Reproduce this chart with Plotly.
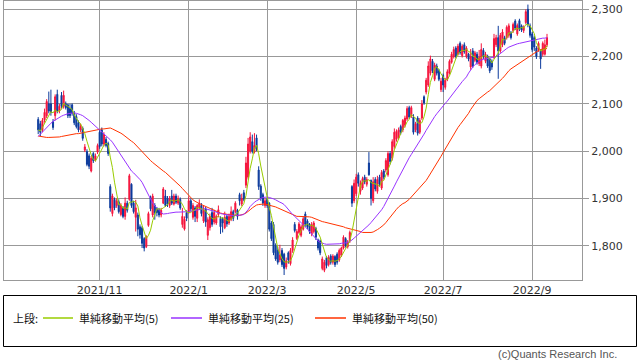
import pandas as pd
import plotly.graph_objects as go

# ---------------- data ----------------
first_day = "2021-09-17"
last_day = "2022-09-12"
market_holidays = ["2021-09-20", "2021-09-23", "2021-11-03", "2021-11-23", "2021-12-31",
                   "2022-01-03", "2022-01-10", "2022-02-11", "2022-02-23", "2022-03-21",
                   "2022-04-29", "2022-05-03", "2022-05-04", "2022-05-05", "2022-07-18",
                   "2022-08-11"]

tick_months = ["2021-11", "2022-01", "2022-03", "2022-05", "2022-07", "2022-09"]
tick_labels = ["2021/11", "2022/1", "2022/3", "2022/5", "2022/7", "2022/9"]
price_ticks = [1800, 1900, 2000, 2100, 2200, 2300]

open_ = [2067, 2058, 2045, 2066, 2075, 2100, 2100, 2062, 2075, 2120,
         2085, 2118, 2095, 2100, 2098, 2090, 2098, 2080, 2073, 2060,
         2045, 2048, 2002, 1999, 1990, 1958, 1995, 1982, 1998, 2040,
         2045, 2015, 2025, 2016, 1925, 1868, 1898, 1885, 1893, 1866,
         1880, 1862, 1890, 1898, 1930, 1890, 1860, 1865, 1840, 1838,
         1815, 1798, 1843, 1902, 1865, 1885, 1878, 1876, 1865, 1890,
         1905, 1900, 1885, 1905, 1888, 1905, 1890, 1898, 1845, 1835,
         1870, 1872, 1895, 1860, 1880, 1858, 1880, 1885, 1852, 1878,
         1822, 1838, 1870, 1850, 1848, 1866, 1858, 1856, 1838, 1862,
         1848, 1856, 1872, 1872, 1875, 1908, 1888, 1912, 1928, 1945,
         2000, 2020, 1998, 2028, 1960, 1926, 1908, 1885, 1898, 1890,
         1848, 1845, 1800, 1790, 1770, 1790, 1782, 1755, 1785, 1762,
         1790, 1845, 1815, 1828, 1822, 1835, 1867, 1852, 1845, 1825,
         1830, 1836, 1812, 1810, 1752, 1748, 1775, 1760, 1778, 1765,
         1777, 1782, 1770, 1780, 1795, 1815, 1798, 1810, 1925, 1895,
         1910, 1950, 1915, 1922, 1945, 1930, 1975, 1938, 1895, 1940,
         1915, 1945, 1922, 1958, 1960, 1950, 1995, 1985, 2010, 2025,
         2028, 2052, 2045, 2055, 2068, 2092, 2075, 2072, 2045, 2070,
         2040, 2070, 2115, 2125, 2140, 2165, 2190, 2152, 2180, 2170,
         2130, 2160, 2135, 2152, 2165, 2188, 2200, 2218, 2205, 2228,
         2202, 2225, 2200, 2205, 2178, 2212, 2192, 2205, 2185, 2180,
         2213, 2190, 2200, 2195, 2190, 2198, 2225, 2240, 2212, 2225,
         2240, 2240, 2245, 2250, 2255, 2275, 2248, 2276, 2265, 2255,
         2272, 2300, 2265, 2248, 2240, 2218, 2215, 2212, 2205, 2205, 2225]

close = [2045, 2040, 2065, 2082, 2105, 2085, 2082, 2050, 2115, 2085,
         2095, 2095, 2118, 2092, 2075, 2075, 2080, 2060, 2052, 2045,
         2052, 2027, 2009, 1972, 1968, 1985, 1980, 1990, 2012, 2010,
         2015, 2035, 2012, 1995, 1880, 1905, 1880, 1895, 1872, 1885,
         1862, 1890, 1875, 1948, 1885, 1872, 1880, 1835, 1823, 1805,
         1795, 1818, 1868, 1878, 1905, 1870, 1870, 1865, 1875, 1920,
         1885, 1888, 1900, 1890, 1905, 1892, 1900, 1880, 1862, 1856,
         1858, 1895, 1878, 1885, 1862, 1885, 1890, 1868, 1875, 1850,
         1855, 1862, 1845, 1870, 1862, 1876, 1840, 1848, 1860, 1846,
         1862, 1872, 1858, 1890, 1862, 1895, 1900, 1898, 1975, 2015,
         2030, 2000, 2012, 2005, 1925, 1900, 1890, 1895, 1885, 1835,
         1815, 1785, 1772, 1765, 1780, 1760, 1752, 1768, 1770, 1790,
         1812, 1832, 1830, 1846, 1840, 1857, 1845, 1840, 1830, 1845,
         1848, 1818, 1795, 1785, 1772, 1765, 1758, 1775, 1765, 1778,
         1760, 1765, 1790, 1795, 1818, 1800, 1808, 1828, 1890, 1932,
         1945, 1932, 1932, 1942, 1935, 1940, 1950, 1900, 1935, 1920,
         1940, 1930, 1955, 1945, 1980, 1995, 1978, 2020, 2040, 2042,
         2045, 2040, 2065, 2070, 2090, 2072, 2092, 2040, 2058, 2038,
         2065, 2100, 2102, 2150, 2180, 2195, 2170, 2182, 2165, 2152,
         2148, 2140, 2150, 2168, 2190, 2205, 2215, 2200, 2222, 2208,
         2222, 2210, 2218, 2195, 2200, 2180, 2208, 2188, 2198, 2215,
         2200, 2205, 2180, 2170, 2178, 2238, 2240, 2212, 2245, 2252,
         2228, 2262, 2265, 2240, 2268, 2260, 2266, 2258, 2256, 2262,
         2295, 2268, 2245, 2215, 2220, 2200, 2228, 2195, 2228, 2225, 2240]

high = [2072, 2064, 2070, 2090, 2110, 2126, 2130, 2068, 2120, 2130,
        2100, 2125, 2128, 2105, 2100, 2100, 2101, 2085, 2078, 2065,
        2058, 2052, 2015, 2004, 1995, 1990, 1998, 1995, 2016, 2046,
        2050, 2040, 2030, 2020, 1930, 1910, 1902, 1900, 1898, 1890,
        1884, 1902, 1895, 1952, 1932, 1895, 1897, 1870, 1845, 1842,
        1818, 1822, 1872, 1906, 1910, 1890, 1882, 1880, 1880, 1924,
        1918, 1905, 1905, 1918, 1910, 1910, 1906, 1902, 1880, 1862,
        1875, 1904, 1900, 1890, 1884, 1888, 1898, 1890, 1885, 1882,
        1860, 1868, 1880, 1876, 1866, 1885, 1862, 1860, 1872, 1866,
        1868, 1883, 1876, 1894, 1878, 1912, 1910, 1918, 1988, 2028,
        2040, 2035, 2038, 2035, 1968, 1930, 1912, 1900, 1902, 1892,
        1852, 1850, 1805, 1798, 1802, 1795, 1785, 1775, 1788, 1795,
        1818, 1850, 1835, 1850, 1845, 1862, 1872, 1856, 1848, 1850,
        1852, 1840, 1815, 1813, 1777, 1770, 1778, 1780, 1782, 1782,
        1780, 1786, 1794, 1798, 1822, 1818, 1812, 1832, 1928, 1940,
        1952, 1955, 1938, 1946, 1950, 1945, 1998, 1940, 1945, 1945,
        1948, 1950, 1960, 1962, 1985, 2000, 2000, 2025, 2048, 2046,
        2050, 2056, 2068, 2075, 2095, 2096, 2096, 2078, 2062, 2074,
        2070, 2108, 2118, 2155, 2190, 2202, 2195, 2187, 2185, 2174,
        2155, 2164, 2155, 2173, 2194, 2210, 2221, 2222, 2227, 2232,
        2226, 2230, 2222, 2208, 2216, 2218, 2212, 2210, 2214, 2228,
        2218, 2210, 2204, 2198, 2194, 2248, 2246, 2265, 2250, 2258,
        2244, 2266, 2270, 2254, 2272, 2279, 2270, 2280, 2268, 2266,
        2300, 2310, 2270, 2252, 2244, 2222, 2232, 2215, 2232, 2236, 2248]

low = [2036, 2032, 2040, 2060, 2070, 2080, 2075, 2045, 2065, 2080,
       2080, 2090, 2090, 2088, 2070, 2070, 2075, 2055, 2048, 2040,
       2040, 2022, 1998, 1968, 1962, 1955, 1975, 1978, 1994, 2005,
       2010, 2010, 2008, 1990, 1872, 1862, 1875, 1880, 1868, 1862,
       1858, 1855, 1870, 1895, 1880, 1868, 1830, 1820, 1815, 1795,
       1788, 1795, 1840, 1873, 1860, 1855, 1862, 1860, 1860, 1888,
       1882, 1882, 1880, 1886, 1885, 1888, 1886, 1876, 1838, 1832,
       1852, 1868, 1872, 1855, 1850, 1850, 1876, 1862, 1848, 1840,
       1812, 1832, 1840, 1845, 1844, 1860, 1825, 1828, 1835, 1840,
       1844, 1852, 1852, 1868, 1855, 1885, 1884, 1894, 1922, 1940,
       1995, 1995, 1995, 2000, 1918, 1895, 1884, 1880, 1880, 1830,
       1810, 1780, 1768, 1760, 1765, 1755, 1738, 1750, 1762, 1758,
       1785, 1828, 1812, 1825, 1818, 1832, 1840, 1835, 1825, 1820,
       1826, 1812, 1790, 1780, 1748, 1744, 1752, 1756, 1760, 1760,
       1755, 1760, 1766, 1776, 1792, 1796, 1794, 1806, 1882, 1890,
       1905, 1925, 1908, 1918, 1930, 1925, 1948, 1885, 1890, 1915,
       1910, 1925, 1918, 1940, 1955, 1946, 1972, 1980, 2005, 2020,
       2024, 2035, 2040, 2050, 2064, 2068, 2070, 2035, 2040, 2033,
       2036, 2066, 2098, 2120, 2136, 2160, 2165, 2148, 2160, 2148,
       2125, 2125, 2130, 2148, 2162, 2185, 2196, 2196, 2202, 2204,
       2198, 2206, 2196, 2190, 2172, 2176, 2188, 2183, 2180, 2175,
       2195, 2186, 2176, 2165, 2172, 2195, 2220, 2153, 2208, 2220,
       2224, 2236, 2240, 2236, 2250, 2256, 2244, 2254, 2252, 2250,
       2268, 2262, 2240, 2210, 2212, 2195, 2210, 2174, 2200, 2202, 2220]

ma25 = [2031, 2036, 2041, 2046, 2051, 2055, 2059, 2063, 2066, 2069,
        2072, 2074, 2076, 2078, 2079, 2080, 2081, 2081, 2080, 2079,
        2077, 2075, 2072, 2069, 2065, 2061, 2057, 2053, 2049, 2045,
        2041, 2038, 2034, 2029, 2024, 2019, 2012, 2005, 1998, 1991,
        1984, 1977, 1970, 1963, 1958, 1954, 1950, 1945, 1940, 1934,
        1925, 1916, 1907, 1898, 1890, 1884, 1879, 1874, 1870, 1867,
        1867, 1868, 1869, 1870, 1871, 1871, 1871, 1871, 1871, 1871,
        1871, 1872, 1873, 1874, 1875, 1876, 1877, 1877, 1878, 1878,
        1877, 1876, 1875, 1873, 1871, 1869, 1868, 1867, 1866, 1865,
        1865, 1864, 1864, 1864, 1864, 1864, 1865, 1866, 1870, 1876,
        1883, 1888, 1892, 1895, 1898, 1900, 1902, 1903, 1903, 1902,
        1901, 1899, 1897, 1894, 1892, 1890, 1887, 1882, 1876, 1870,
        1866, 1862, 1858, 1854, 1849, 1845, 1840, 1835, 1830, 1825,
        1819, 1814, 1810, 1807, 1805, 1804, 1803, 1803, 1803, 1804,
        1804, 1804, 1804, 1805, 1805, 1806, 1807, 1809, 1812, 1816,
        1820, 1823, 1827, 1830, 1835, 1840, 1844, 1849, 1854, 1859,
        1865, 1870, 1876, 1883, 1891, 1899, 1908, 1917, 1926, 1935,
        1944, 1953, 1962, 1970, 1979, 1986, 1993, 2000, 2007, 2013,
        2020, 2028, 2036, 2044, 2052, 2059, 2066, 2073, 2079, 2085,
        2091, 2097, 2101, 2106, 2112, 2119, 2125, 2131, 2137, 2142,
        2147, 2152, 2157, 2165, 2172, 2178, 2183, 2187, 2190, 2193,
        2194, 2195, 2196, 2196, 2197, 2198, 2200, 2203, 2207, 2211,
        2214, 2217, 2220, 2222, 2224, 2226, 2227, 2228, 2229, 2230,
        2231, 2232, 2234, 2235, 2236, 2237, 2238, 2238, 2239, 2239, 2240]

ma50 = [2032, 2031, 2031, 2030, 2029, 2029, 2029, 2029, 2030, 2030,
        2030, 2031, 2032, 2033, 2034, 2034, 2035, 2036, 2037, 2037,
        2038, 2039, 2040, 2041, 2042, 2043, 2044, 2045, 2045, 2046,
        2047, 2047, 2048, 2048, 2049, 2047, 2045, 2043, 2041, 2038,
        2035, 2031, 2028, 2025, 2021, 2018, 2013, 2008, 2003, 1998,
        1993, 1988, 1984, 1980, 1976, 1972, 1968, 1965, 1962, 1958,
        1955, 1951, 1948, 1944, 1940, 1936, 1931, 1926, 1921, 1916,
        1911, 1906, 1902, 1897, 1894, 1891, 1889, 1887, 1885, 1883,
        1881, 1878, 1876, 1874, 1872, 1870, 1869, 1868, 1867, 1866,
        1866, 1865, 1865, 1864, 1864, 1864, 1865, 1867, 1869, 1872,
        1876, 1880, 1883, 1886, 1887, 1888, 1888, 1888, 1887, 1886,
        1885, 1884, 1882, 1880, 1878, 1876, 1874, 1872, 1870, 1868,
        1866, 1864, 1862, 1862, 1862, 1862, 1862, 1861, 1861, 1860,
        1858, 1856, 1854, 1852, 1851, 1850, 1849, 1848, 1847, 1846,
        1845, 1843, 1842, 1841, 1840, 1838, 1837, 1836, 1835, 1834,
        1833, 1831, 1830, 1828, 1828, 1827, 1827, 1828, 1829, 1831,
        1834, 1837, 1840, 1844, 1849, 1855, 1861, 1867, 1872, 1877,
        1882, 1886, 1889, 1891, 1894, 1898, 1903, 1908, 1913, 1918,
        1923, 1928, 1932, 1938, 1945, 1952, 1959, 1966, 1974, 1981,
        1989, 1997, 2005, 2013, 2020, 2027, 2035, 2043, 2050, 2056,
        2062, 2067, 2072, 2080, 2088, 2095, 2102, 2107, 2111, 2115,
        2118, 2121, 2125, 2128, 2132, 2137, 2141, 2145, 2149, 2154,
        2159, 2165, 2170, 2174, 2177, 2181, 2184, 2187, 2190, 2193,
        2196, 2199, 2202, 2205, 2208, 2211, 2213, 2215, 2216, 2217, 2217]

series_names = ["単純移動平均(5)", "単純移動平均(25)", "単純移動平均(50)"]

# ---------------- derived ----------------
n = len(close)
dates = pd.bdate_range(first_day, last_day, freq="C", holidays=market_holidays)[:n]
x = list(range(n))
ma5 = pd.Series(close).rolling(5, min_periods=1).mean().tolist()

month_keys = [d.strftime("%Y-%m") for d in dates]
tick_pos = [month_keys.index(m) for m in tick_months]

# ---------------- style / geometry ----------------
RED = "#f5143c"
BLUE = "#0b3a9c"
C5, C25, C50 = "#99cc00", "#9933ff", "#ff3300"
GRID = "#999999"
W, H = 638, 362
L, R, T, B = 4, 56, 1, 82
PX_PER_DAY = 2.12
X0_PX = 38.2          # pixel position of first candle
PX_PER_UNIT = 0.4728  # pixels per price unit
Y2300_PX = 9.3

plot_w = W - L - R
plot_h = H - T - B
x_range = [(L - X0_PX) / PX_PER_DAY, (W - R - X0_PX) / PX_PER_DAY]
y_range = [2300 - ((H - B) - Y2300_PX) / PX_PER_UNIT, 2300 + (Y2300_PX - T) / PX_PER_UNIT]


def px(xp):
    return (xp - L) / plot_w


def py(yp):
    return ((H - B) - yp) / plot_h


fig = go.Figure()
fig.add_trace(go.Candlestick(
    x=x, open=open_, high=high, low=low, close=close,
    increasing=dict(line=dict(color=RED, width=1), fillcolor=RED),
    decreasing=dict(line=dict(color=BLUE, width=1), fillcolor=BLUE),
    whiskerwidth=0, showlegend=False, name="株価"))
for yv, col, nm in [(ma50, C50, series_names[2]), (ma25, C25, series_names[1]), (ma5, C5, series_names[0])]:
    fig.add_trace(go.Scatter(x=x, y=yv, mode="lines", line=dict(color=col, width=1),
                             name=nm, showlegend=False))

fig.update_layout(
    width=W, height=H, margin=dict(l=L, r=R, t=T, b=B),
    paper_bgcolor="white", plot_bgcolor="white",
    font=dict(family="DejaVu Sans", size=11, color="#333333"),
    xaxis=dict(range=x_range, tickmode="array", tickvals=tick_pos, ticktext=tick_labels,
               showgrid=True, gridcolor=GRID, gridwidth=1, showline=True, linecolor=GRID,
               linewidth=1, mirror=True, ticks="", ticklen=0, zeroline=False,
               rangeslider=dict(visible=False), fixedrange=True),
    yaxis=dict(range=y_range, side="right", tickmode="array", tickvals=price_ticks,
               tickformat=",", showgrid=True, gridcolor=GRID, gridwidth=1, showline=True,
               linecolor=GRID, linewidth=1, mirror=True, ticks="outside", ticklen=6,
               tickcolor=GRID, zeroline=False, fixedrange=True),
    showlegend=False,
)

# legend box drawn below the plot
shapes = [dict(type="rect", xref="paper", yref="paper", x0=px(3.5), x1=px(636.5),
               y0=py(346.5), y1=py(295.5), line=dict(color="black", width=1))]
ann = [dict(text="上段:", x=px(11), y=py(318))]
legend_items = [(43, 73, C5, series_names[0]), (171, 202, C25, series_names[1]),
                (315, 346, C50, series_names[2])]
for x0, x1, col, nm in legend_items:
    shapes.append(dict(type="line", xref="paper", yref="paper", x0=px(x0), x1=px(x1),
                       y0=py(318), y1=py(318), line=dict(color=col, width=1.5)))
    ann.append(dict(text=nm, x=px(x1 + 4), y=py(318)))
annotations = [dict(a, xref="paper", yref="paper", xanchor="left", yanchor="middle",
                    showarrow=False, font=dict(family="Noto Sans CJK JP", size=11, color="#111111"))
               for a in ann]
annotations.append(dict(text="(c)Quants Research Inc.", xref="paper", yref="paper",
                        x=px(619), y=py(354), xanchor="right", yanchor="middle", showarrow=False,
                        font=dict(family="Liberation Sans", size=11, color="#555555")))
fig.update_layout(shapes=shapes, annotations=annotations)

# the page should start at the very top-left corner (no default body margin)
fig.write_html("out.html", config={"displayModeBar": False},
               post_script="document.body.style.margin='0';document.body.style.overflow='hidden';")
